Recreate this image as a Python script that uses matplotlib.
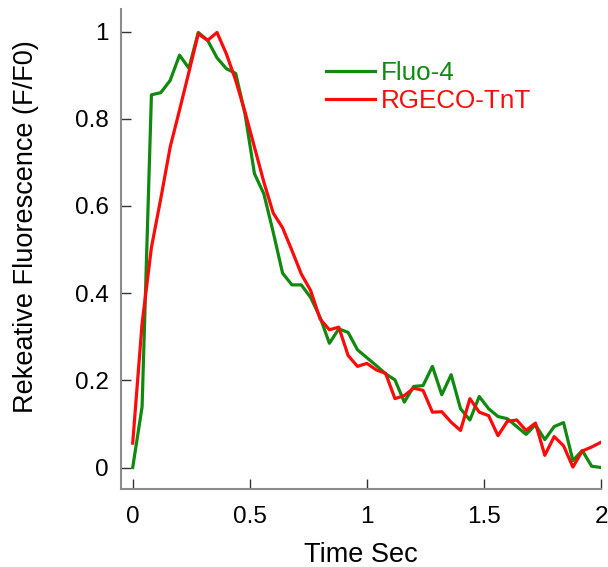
import matplotlib
matplotlib.use("Agg")
import matplotlib.pyplot as plt

# time axis (s), sampled every 0.04 s
time_s = [0.00, 0.04, 0.08, 0.12, 0.16, 0.20, 0.24, 0.28, 0.32, 0.36,
          0.40, 0.44, 0.48, 0.52, 0.56, 0.60, 0.64, 0.68, 0.72, 0.76,
          0.80, 0.84, 0.88, 0.92, 0.96, 1.00, 1.04, 1.08, 1.12, 1.16,
          1.20, 1.24, 1.28, 1.32, 1.36, 1.40, 1.44, 1.48, 1.52, 1.56,
          1.60, 1.64, 1.68, 1.72, 1.76, 1.80, 1.84, 1.88, 1.92, 1.96,
          2.00]

fluo4 = [0.000, 0.139, 0.855, 0.860, 0.888, 0.946, 0.916, 0.998, 0.980, 0.940,
         0.915, 0.904, 0.810, 0.674, 0.628, 0.540, 0.446, 0.419, 0.419, 0.390,
         0.345, 0.285, 0.318, 0.310, 0.270, 0.252, 0.234, 0.215, 0.201, 0.150,
         0.186, 0.188, 0.232, 0.167, 0.213, 0.135, 0.109, 0.163, 0.135, 0.117,
         0.112, 0.094, 0.076, 0.098, 0.064, 0.094, 0.103, 0.016, 0.039, 0.003,
         0.000]

rgeco_tnt = [0.056, 0.330, 0.505, 0.617, 0.735, 0.820, 0.907, 0.995, 0.980, 0.998,
             0.949, 0.888, 0.815, 0.735, 0.655, 0.584, 0.550, 0.498, 0.444, 0.406,
             0.341, 0.316, 0.322, 0.257, 0.232, 0.239, 0.224, 0.216, 0.158, 0.165,
             0.182, 0.177, 0.127, 0.128, 0.104, 0.085, 0.158, 0.127, 0.119, 0.073,
             0.106, 0.109, 0.085, 0.102, 0.028, 0.071, 0.050, 0.001, 0.038, 0.047,
             0.058]

x_ticks = [0, 0.5, 1, 1.5, 2]
x_tick_labels = ["0", "0.5", "1", "1.5", "2"]
y_ticks = [0, 0.2, 0.4, 0.6, 0.8, 1]
y_tick_labels = ["0", "0.2", "0.4", "0.6", "0.8", "1"]

GREEN = "#0f8a0f"
RED = "#ff0a0a"

plt.rcParams["font.family"] = ["Liberation Sans", "DejaVu Sans"]

fig = plt.figure(figsize=(6.08, 5.67), dpi=100)
ax = fig.add_axes([0.199, 0.137, 0.7895, 0.848])

ax.plot(time_s, fluo4, color=GREEN, linewidth=2.3, label="Fluo-4")
ax.plot(time_s, rgeco_tnt, color=RED, linewidth=2.3, label="RGECO-TnT")

ax.set_xlim(-0.05, 2.0)
ax.set_ylim(-0.05, 1.053)
ax.set_xticks(x_ticks)
ax.set_xticklabels(x_tick_labels)
ax.set_yticks(y_ticks)
ax.set_yticklabels(y_tick_labels)

for side in ["top", "right"]:
    ax.spines[side].set_visible(False)
for side in ["left", "bottom"]:
    ax.spines[side].set_color("#8c8c8c")
    ax.spines[side].set_linewidth(1.5)

ax.tick_params(direction="in", length=7, width=1, color="#333333",
               labelsize=17.5)
ax.tick_params(axis="y", pad=9)
ax.tick_params(axis="x", pad=12)

ax.set_xlabel("Time Sec", fontsize=19.5, labelpad=10)
ax.set_ylabel("Rekeative Fluorescence (F/F0)", fontsize=19.5)
# label sits a little above the axis centre in the reference
ax.yaxis.set_label_coords(-0.171, 0.547)

leg = ax.legend(loc="upper left", bbox_to_anchor=(326.0 / 608, 1 - 61.0 / 567),
                bbox_transform=fig.transFigure, frameon=False, fontsize=18.7,
                handlelength=1.9, handletextpad=0.2, labelspacing=0.17,
                borderpad=0, borderaxespad=0)
for text, line in zip(leg.get_texts(), leg.get_lines()):
    text.set_color(line.get_color())

fig.savefig("out.png", dpi=100)
